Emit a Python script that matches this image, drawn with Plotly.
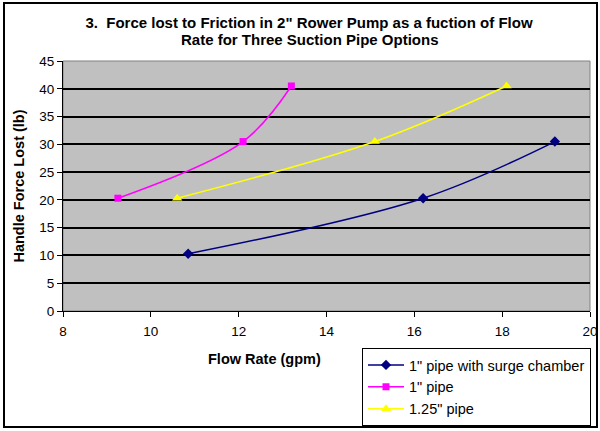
import plotly.graph_objects as go

series_names = ['1" pipe with surge chamber', '1" pipe', '1.25" pipe']
flow_surge = [10.85, 16.2, 19.2]
force_surge = [10.3, 20.3, 30.5]
flow_1in = [9.25, 12.1, 13.2]
force_1in = [20.3, 30.5, 40.5]
flow_125 = [10.6, 15.1, 18.1]
force_125 = [20.3, 30.5, 40.5]

x_ticks = [8, 10, 12, 14, 16, 18, 20]
y_ticks = list(range(0, 46, 5))

title_line1 = "3.  Force lost to Friction in 2\" Rower Pump as a fuction of Flow"
title_line2 = "Rate for Three Suction Pipe Options"
x_title = "Flow Rate (gpm)"
y_title = "Handle Force Lost (lb)"

FONT = "Liberation Sans, Arial, sans-serif"

fig = go.Figure()
styles = [
    (flow_surge, force_surge, "#000080", "diamond", 8),
    (flow_1in, force_1in, "#FF00FF", "square", 7),
    (flow_125, force_125, "#FFFF00", "triangle-up", 9),
]
for i, (name, (xs, ys, col, sym, sz)) in enumerate(zip(series_names, styles)):
    fig.add_trace(go.Scatter(
        x=xs, y=ys, name=name, mode="lines+markers",
        line=dict(color=col, width=1.5, shape="spline", smoothing=1.0),
        marker=dict(symbol=sym, size=sz, color=col),
        legendgroup=f"g{i}",
    ))

L, R, T, B = 63, 590, 61, 311

def px_x(p):
    return (p - L) / float(R - L)

def px_y(p):
    return (B - p) / float(B - T)

fig.update_layout(
    width=600, height=431,
    margin=dict(l=L, r=600 - R, t=T, b=431 - B, autoexpand=False),
    paper_bgcolor="white",
    plot_bgcolor="#C0C0C0",
    font=dict(family=FONT, size=13, color="black"),
    title=dict(
        text=title_line1,
        x=px_x(309), xref="paper", xanchor="center",
        y=1 - 23 / 431.0, yanchor="middle",
        font=dict(family=FONT, size=15, color="black", weight="bold"),
    ),
    annotations=[
        dict(text=title_line2, xref="paper", yref="paper",
             x=px_x(310), y=px_y(40), xanchor="center", yanchor="middle",
             showarrow=False,
             font=dict(family=FONT, size=15, color="black", weight="bold")),
        dict(text=x_title, xref="paper", yref="paper",
             x=px_x(264), y=px_y(359), xanchor="center", yanchor="middle",
             showarrow=False,
             font=dict(family=FONT, size=14.5, color="black", weight="bold")),
    ],
    xaxis=dict(
        range=[8, 20], tickvals=x_ticks, ticks="outside", ticklen=5,
        tickcolor="black", showline=True, linecolor="black", linewidth=1,
        showgrid=False, zeroline=False, automargin=False,
        tickfont=dict(size=13.5), ticklabelstandoff=3,
    ),
    yaxis=dict(
        range=[0, 45], tickvals=y_ticks, ticks="outside", ticklen=5,
        tickcolor="black", showline=True, linecolor="black", linewidth=1,
        showgrid=True, gridcolor="black", gridwidth=1.5, zeroline=False,
        automargin=False,
        title=dict(text=y_title, font=dict(size=14.5, weight="bold"), standoff=11),
        tickfont=dict(size=13.5),
    ),
    legend=dict(
        x=px_x(362), y=px_y(348), xanchor="left", yanchor="top",
        bgcolor="white", bordercolor="black", borderwidth=1,
        font=dict(size=14.5), tracegroupgap=0, traceorder="grouped",
        itemwidth=36,
    ),
    shapes=[
        dict(type="rect", xref="paper", yref="paper",
             x0=0, x1=1, y0=0, y1=1, line=dict(color="#808080", width=1), layer="below"),
        dict(type="rect", xref="paper", yref="paper",
             x0=px_x(4), x1=px_x(597), y0=px_y(427), y1=px_y(3),
             line=dict(color="black", width=2)),
    ],
)

fig.write_html(
    "out.html",
    config={"displayModeBar": False},
    post_script="document.body.style.margin='0';document.body.style.padding='0';",
)
